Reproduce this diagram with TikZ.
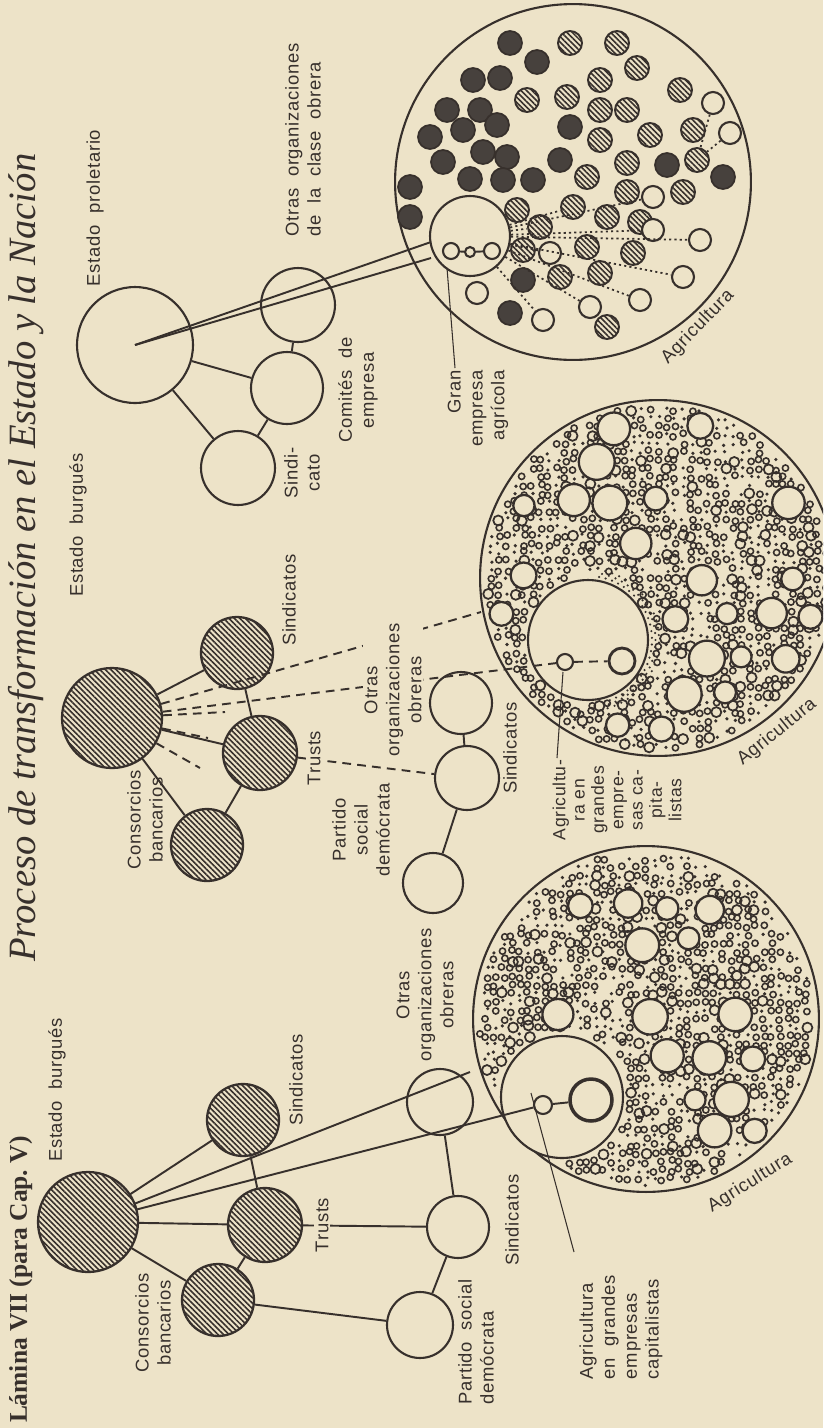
\documentclass[tikz,border=0pt]{standalone}
\usepackage{fontspec}
\setmainfont{Liberation Serif}
\newfontfamily\lab{Liberation Sans}[LetterSpace=4.0]
\usetikzlibrary{patterns.meta}
\definecolor{paper}{RGB}{237,227,200}
\definecolor{ink}{RGB}{55,48,44}
\tikzset{
  lbl/.style={font=\lab\fontsize{10.5}{12.5}\selectfont, text=ink, rotate=90, align=center, inner sep=0pt},
  rr/.style={minimum size={#1*0.04cm}},
  hatched/.style={circle, draw=ink, line width=1.3pt, pattern={Lines[angle=-45,distance=2.2pt,line width=0.9pt]}, pattern color=ink, inner sep=0pt},
  darkc/.style={circle, draw=ink, fill=ink!92, line width=1pt, inner sep=0pt},
  opencirc/.style={circle, draw=ink, fill=paper, line width=1.2pt, inner sep=0pt},
  bigcirc/.style={circle, draw=ink, line width=1.2pt, inner sep=0pt},
  conn/.style={draw=ink, line width=1.1pt},
  dconn/.style={draw=ink, line width=1.1pt, dash pattern=on 5pt off 3.5pt},
  dotl/.style={draw=ink, line width=1pt, dash pattern=on 1.2pt off 1.8pt},
  thinl/.style={draw=ink, line width=0.6pt},
}
\newcommand\bubbles[6]{%
\foreach \gx in {-21,...,21}{\foreach \gy in {-21,...,21}{%
 \pgfmathsetmacro\px{#1+\gx*8.4+rand*2}%
 \pgfmathsetmacro\py{#2+\gy*8.4+rand*2}%
 \pgfmathsetmacro\dd{veclen(\px-#1,\py-#2)}%
 \pgfmathsetmacro\di{veclen(\px-#4,\py-#5)}%
 \pgfmathtruncatemacro\ok{(\dd<#3-6)&&(\di>#6+5)}%
 \ifnum\ok=1
   \pgfmathtruncatemacro\kk{rnd*20}%
   \ifnum\kk<10 \draw[ink, line width=0.9pt] (\px,\py) circle (3.1);\else
   \ifnum\kk<16 \fill[ink] (\px,\py) circle (1.8);\else
   \ifnum\kk<18 \draw[ink, line width=1pt] (\px,\py) circle (5);\fi\fi\fi
 \fi
}}}
\newcommand\bigbubbles[6]{%
\foreach \gx in {-5,...,5}{\foreach \gy in {-5,...,5}{%
 \pgfmathsetmacro\px{#1+\gx*44+abs(mod(\gy,2))*22+rand*5}%
 \pgfmathsetmacro\py{#2+\gy*38+rand*5}%
 \pgfmathsetmacro\rq{10+rnd*8}%
 \pgfmathsetmacro\dd{veclen(\px-#1,\py-#2)}%
 \pgfmathsetmacro\di{veclen(\px-#4,\py-#5)}%
 \pgfmathsetmacro\pp{rnd}%
 \pgfmathtruncatemacro\ok{(\dd<#3-\rq-5)&&(\di>#6+\rq+4)&&(\pp<0.55)}%
 \ifnum\ok=1 \draw[ink,line width=1.3pt,fill=paper] (\px,\py) circle (\rq);\fi
}}}
\begin{document}
\begin{tikzpicture}[x=0.02cm,y=-0.02cm]
\fill[paper] (0,0) rectangle (823,1428);
\useasboundingbox (0,0) rectangle (823,1428);
\pgfmathsetseed{11}
\begin{scope}
\clip (0,0) rectangle (823,1428);
% header
\node[rotate=90, anchor=base east, font=\bfseries\fontsize{14.5}{14.5}\selectfont, text=ink, inner sep=0] (hdrA) at (27,1136) {Lámina VII (para Cap.\ V)};
\node[rotate=90, anchor=base west, font=\itshape\fontsize{22}{22}\selectfont, text=ink, inner sep=0] (hdrB) at (35,962) {Proceso de transformación en el Estado y la Nación};

% ---------- textures ----------
\bubbles{646}{1019}{173}{562}{1097}{61}
\bigbubbles{646}{1019}{173}{562}{1097}{61}
\bubbles{658}{578}{178}{588}{640}{60}
\bigbubbles{658}{578}{178}{588}{640}{60}
\foreach \a in {-80,-74,...,70}{\foreach \k in {0,1,2}{%
  \fill[ink] ({588+(64+3.5*\k)*cos(\a+2*\k)},{640+(64+3.5*\k)*sin(\a+2*\k)}) circle (1.2);}}

% ================= GROUP 1 (bottom) =================
\node[bigcirc, rr=173] (A1) at (646,1019) {};
\node[opencirc, rr=61] (G1) at (562,1097) {};
\node[opencirc, rr=9] (g1a) at (543,1105) {};
\node[circle, draw=ink, fill=paper, line width=2pt, inner sep=0pt, rr=21] (g1b) at (591,1100) {};
\draw[conn] (g1a) -- (g1b);
\node[hatched, rr=50] (E1) at (88,1222) {};
\node[hatched, rr=36] (S1) at (243,1120) {};
\node[hatched, rr=37] (T1) at (265,1225) {};
\node[hatched, rr=36] (C1) at (218,1300) {};
\node[opencirc, rr=33] (O1) at (440,1102) {};
\node[opencirc, rr=31] (SO1) at (458,1227) {};
\node[opencirc, rr=33] (P1) at (420,1325) {};
\coordinate (e1end) at (470,1072);
\draw[conn] (E1) -- (S1);
\draw[conn] (E1) -- (T1);
\draw[conn] (E1) -- (C1);
\draw[conn] (S1) -- (T1);
\draw[conn] (T1) -- (C1);
\draw[conn] (C1) -- (P1);
\draw[conn] (T1) -- (SO1);
\draw[conn] (O1) -- (SO1);
\draw[conn] (SO1) -- (P1);
\draw[conn] (E1) -- (e1end);
\draw[conn] (E1) -- (g1a);
\coordinate (p1a) at (531,1093);
\coordinate (p1b) at (574,1252);
\draw[thinl] (p1a) -- (p1b);
\node[lbl] (lE1) at (57,1090) {Estado\ \ burgués};
\node[lbl] (lC1) at (153,1323) {Consorcios\\bancarios};
\node[lbl, fill=paper, inner sep=1pt] (lT1) at (322,1225) {Trusts};
\node[lbl] (lS1) at (296,1080) {Sindicatos};
\node[lbl] (lO1) at (425,995) {Otras\\organizaciones\\obreras};
\node[lbl] (lSO1) at (512,1220) {Sindicatos};
\node[lbl, align=left] (lP1) at (476,1342) {Partido\ \ social\\demócrata};
\node[lbl, align=left] (lG1) at (621,1327) {Agricultura\\en\ \ grandes\\empresas\\capitalistas};
\node[lbl, rotate=-58] (lA1) at (750,1183) {Agricultura};

% ================= GROUP 2 (middle) =================
\node[bigcirc, rr=178] (A2) at (658,578) {};
\node[opencirc, rr=60] (G2) at (588,640) {};
\node[opencirc, rr=8] (g2a) at (565,662) {};
\node[circle, draw=ink, fill=paper, line width=1.6pt, inner sep=0pt, rr=13] (g2b) at (622,661) {};
\draw[dconn] (g2a) -- (g2b);
\node[hatched, rr=50] (E2) at (112,718) {};
\node[hatched, rr=36] (S2) at (237,653) {};
\node[hatched, rr=37] (T2) at (260,753) {};
\node[hatched, rr=36] (C2) at (207,845) {};
\node[opencirc, rr=31] (O2) at (461,703) {};
\node[opencirc, rr=32] (SO2) at (467,778) {};
\node[opencirc, rr=30] (P2) at (433,883) {};
\coordinate (e2end) at (481,612);
\coordinate (e2s1) at (225,712);
\coordinate (e2s2) at (208,738);
\coordinate (e2s3) at (200,768);
\draw[conn] (E2) -- (S2);
\draw[conn] (E2) -- (T2);
\draw[conn] (E2) -- (C2);
\draw[conn] (S2) -- (T2);
\draw[conn] (T2) -- (C2);
\draw[conn] (O2) -- (SO2);
\draw[conn] (SO2) -- (P2);
\draw[dconn] (E2) -- (e2end);
\draw[dconn] (E2) -- (g2a);
\draw[dconn] (E2) -- (e2s1);
\draw[dconn] (E2) -- (e2s2);
\draw[dconn] (E2) -- (e2s3);
\draw[dconn] (T2) -- (SO2);
\coordinate (p2a) at (557,758);
\coordinate (p2b) at (563,672);
\draw[thinl] (p2a) -- (p2b);
\node[lbl] (lE2) at (78,525) {Estado\ \ burgués};
\node[lbl] (lC2) at (145,820) {Consorcios\\bancarios};
\node[lbl, fill=paper, inner sep=1pt] (lT2) at (314,758) {Trusts};
\node[lbl] (lS2) at (289,600) {Sindicatos};
\node[lbl, fill=paper, inner sep=1pt] (lO2) at (393,690) {Otras\\organizaciones\\obreras};
\node[lbl] (lSO2) at (510,748) {Sindicatos};
\node[lbl, font=\lab\fontsize{10}{11}\selectfont] (lG2) at (617,800) {Agricultu-\\ra en\\grandes\\empre-\\sas ca-\\pita-\\listas};
\node[lbl] (lP2) at (361,830) {Partido\\social\\demócrata};
\node[lbl, rotate=-51] (lA2) at (777,732) {Agricultura};

% ================= GROUP 3 (top) =================
\node[bigcirc, rr=178] (A3) at (573,182) {};
\foreach \cx/\cy [count=\i] in {510/43,537/62,473/80,500/78,447/110,480/110,430/137,463/130,497/125,483/152,507/157,443/162,410/187,470/179,503/180,533/180,560/160,570/127,410/217,523/280,510/313,667/165,723/177}
  \node[darkc, rr=12] (d\i) at (\cx,\cy) {};
\foreach \cx/\cy [count=\i] in {570/43,617/43,637/68,600/80,567/97,600/110,627/110,527/100,600/140,680/90,650/135,627/163,693/130,697/160,587/177,627/192,683/192,517/210,540/227,573/207,607/217,640/222,523/250,587/247,633/253,560/277,600/273,607/327}
  \node[hatched, rr=12, line width=1.1pt] (h\i) at (\cx,\cy) {};
\node[opencirc, rr=40] (G3) at (470,236) {};
\foreach \cx/\cy [count=\i] in {713/103,730/133,653/197,550/253,653/230,700/240,683/277,640/300,590/307,543/320,477/293}
  \node[opencirc, rr=11] (w\i) at (\cx,\cy) {};
\foreach \j in {3,4,5,6,7,8,9,10}
  \draw[dotl] (G3) -- (w\j);
\draw[dotl] (G3) -- (h18);
\draw[dotl] (G3) -- (h19);
\draw[dotl] (G3) -- (h20);
\draw[dotl] (G3) -- (h23);
\draw[dotl] (w1) -- (h14);
\draw[dotl] (w2) -- (h14);
\node[opencirc, rr=8] (g3a) at (451,251) {};
\node[opencirc, rr=5] (g3b) at (470,252) {};
\node[opencirc, rr=8] (g3c) at (492,251) {};
\draw[conn] (g3a) -- (g3b);
\draw[conn] (g3b) -- (g3c);
\node[bigcirc, rr=58] (EP) at (135,345) {};
\node[opencirc, rr=37] (O3) at (298,305) {};
\node[opencirc, rr=36] (C3) at (287,388) {};
\node[opencirc, rr=37] (S3) at (238,468) {};
\coordinate (g3l1) at (431,242);
\coordinate (g3l2) at (431,258);
\draw[conn] (EP) -- (C3);
\draw[conn] (EP) -- (S3);
\draw[conn] (S3) -- (C3);
\draw[conn] (C3) -- (O3);
\draw[conn] (EP.center) -- (g3l1);
\draw[conn] (EP.center) -- (g3l2);
\coordinate (p3a) at (447,268);
\coordinate (p3b) at (455,368);
\draw[thinl] (p3a) -- (p3b);
\node[lbl] (lEP) at (95,208) {Estado\ \ proletario};
\node[lbl, align=left] (lO3) at (303,140) {Otras\ \ organizaciones\\de\ \ la\ \ clase\ \ obrera};
\node[lbl] (lC3) at (358,390) {Comités\ \ de\\empresa};
\node[lbl] (lS3) at (302,473) {Sindi-\\cato};
\node[lbl, align=right] (lG3) at (478,408) {Gran\\empresa\\agrícola};
\node[lbl, rotate=-44] (lA3) at (698,327) {Agricultura};
\end{scope}
\end{tikzpicture}
\end{document}
